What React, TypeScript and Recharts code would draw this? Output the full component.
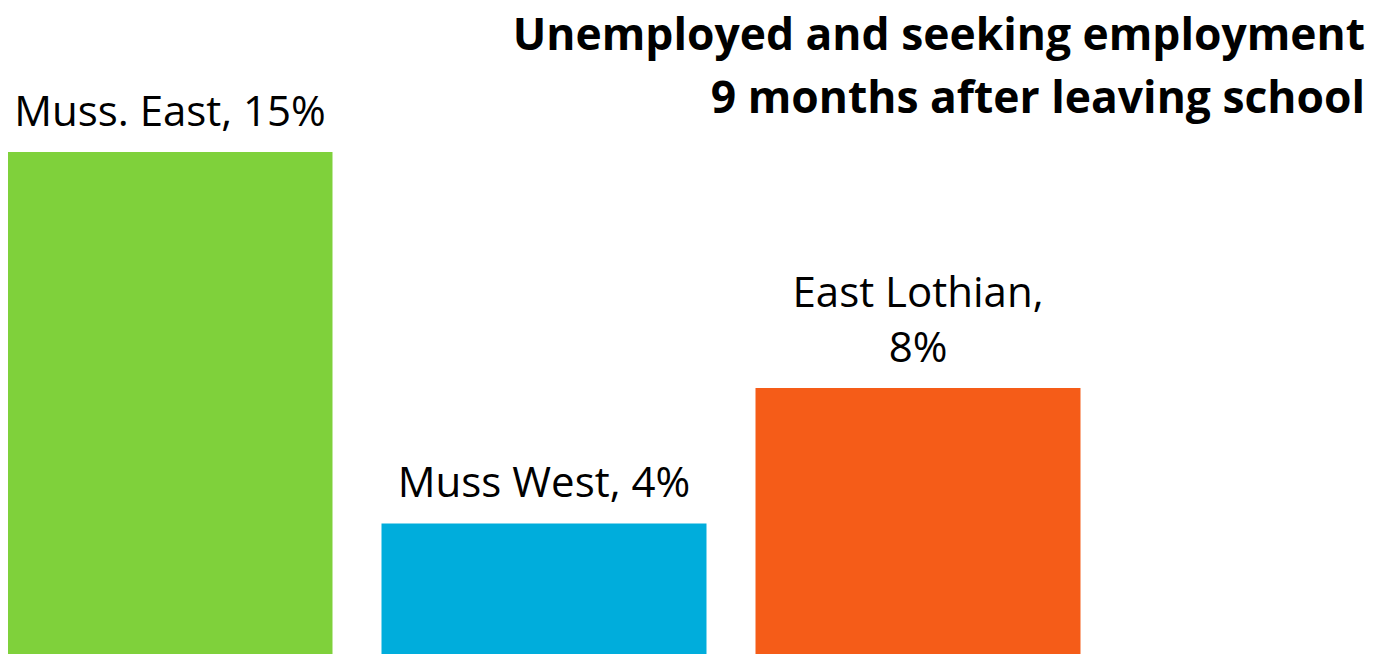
import React from "react";
import { BarChart, Bar, XAxis, YAxis, Cell, LabelList } from "recharts";

const categories = ["Muss. East", "Muss West", "East Lothian"];
const values = [15, 3.9, 7.95];
const valueLabels = ["15%", "4%", "8%"];
const labelLines = [["Muss. East, 15%"], ["Muss West, 4%"], ["East Lothian,", "8%"]];
const colors = ["#7FD13B", "#00ADDC", "#F55C18"];
const titleLines = ["Unemployed and seeking employment", "9 months after leaving school"];

const data = categories.map((c, i) => ({
  idx: i,
  name: c,
  value: values[i],
  label: valueLabels[i],
}));

const W = 1379;
const H = 646;
const FONT = "'Open Sans', sans-serif";

const BarLabel = (props: any) => {
  const { x, y, width, index } = props;
  const lines = labelLines[index];
  const cx = x + width / 2;
  const lastBaseline = y - 26;
  return (
    <g>
      {lines.map((l, k) => (
        <text
          key={k}
          x={cx}
          y={lastBaseline - (lines.length - 1 - k) * 55}
          textAnchor="middle"
          fontFamily={FONT}
          fontSize={42}
          fill="#000"
        >
          {l}
        </text>
      ))}
    </g>
  );
};

export default function App() {
  return (
    <div style={{ position: "relative", width: W, height: H }}>
      <BarChart width={W} height={H} data={data} margin={{ top: 0, right: 0, bottom: 0, left: 0 }}>
        <XAxis
          type="number"
          dataKey="idx"
          domain={[-0.43449, 3.25268]}
          allowDataOverflow
          hide
        />
        <YAxis type="number" domain={[0, 19.303]} allowDataOverflow hide />
        <Bar dataKey="value" barSize={325} isAnimationActive={false}>
          {data.map((d, i) => (
            <Cell key={d.name} fill={colors[i]} />
          ))}
          <LabelList dataKey="label" content={<BarLabel />} />
        </Bar>
      </BarChart>
      <svg
        width={W}
        height={140}
        style={{ position: "absolute", left: 0, top: -8, pointerEvents: "none" }}
      >
        {titleLines.map((t, i) => (
          <text
            key={i}
            x={1357}
            y={50 + i * 63}
            textAnchor="end"
            fontFamily={FONT}
            fontWeight={700}
            fontSize={44.4}
            fill="#000"
          >
            {t}
          </text>
        ))}
      </svg>
    </div>
  );
}
